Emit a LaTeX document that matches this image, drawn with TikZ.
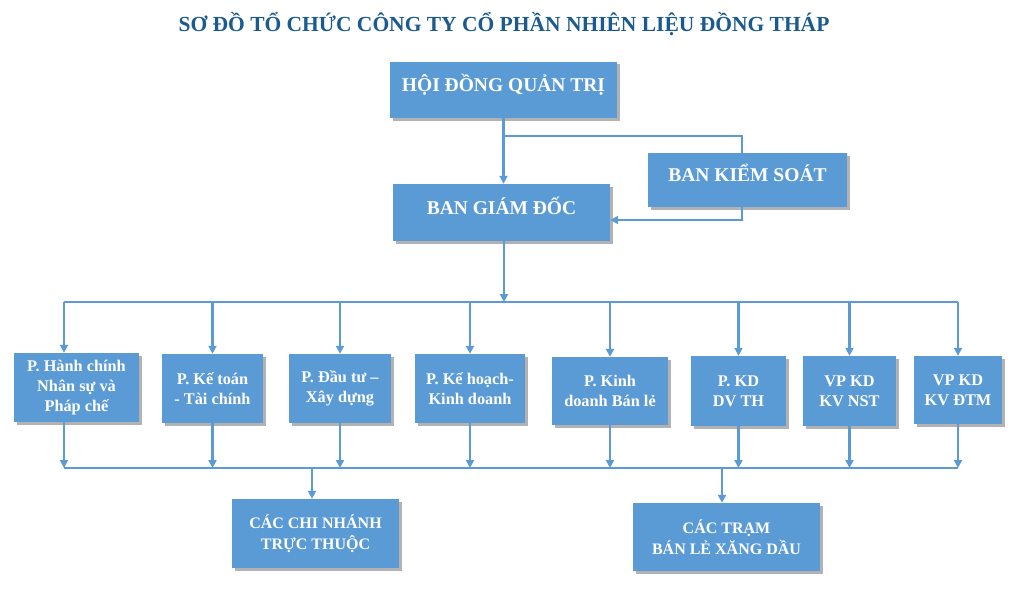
\documentclass[tikz,border=0pt]{standalone}
\usepackage{fontspec}
\setmainfont{Liberation Serif}
\usetikzlibrary{positioning,arrows.meta,shadows}
\definecolor{xanh}{HTML}{5B9BD5}
\definecolor{xanhdam}{HTML}{1A5A8E}

\begin{document}
\begin{tikzpicture}[x=1pt, y=-1pt, >={Triangle[length=8pt,width=8pt]},
      khoi/.style={fill=xanh, text=white, align=center, inner sep=0pt,
                   font=\fontsize{16.3}{20}\selectfont\bfseries,
                   drop shadow={shadow xshift=2.5pt, shadow yshift=-2.5pt, fill=black, opacity=0.3}},
      tren/.style={khoi, font=\fontsize{19.5}{22}\selectfont\bfseries, text height=12pt, text depth=9pt},
      day/.style={xanh, line width=2.6pt}]
    \useasboundingbox (0,0) rectangle (1023,594);
    \node[font=\fontsize{21.5}{24}\selectfont\bfseries, text=xanhdam] (tt) at (504,24)
      {SƠ ĐỒ TỔ CHỨC CÔNG TY CỔ PHẦN NHIÊN LIỆU ĐỒNG THÁP};
    \node[tren, minimum width=227pt, minimum height=56pt] (hd) at (503.5,90) {HỘI ĐỒNG QUẢN TRỊ};
    \node[tren, minimum width=199pt, minimum height=54pt] (ks) at (747.5,180) {BAN KIỂM SOÁT};
    \node[tren, minimum width=217pt, minimum height=57pt] (bg) at (501.5,212.5) {BAN GIÁM ĐỐC};
    \node[khoi, minimum width=125pt, minimum height=69pt] (d1) at (76.5,387.5) {P. Hành chính\\Nhân sự và\\Pháp chế};
    \node[khoi, minimum width=101pt, minimum height=69pt] (d2) at (212.5,388.5) {P. Kế toán\\- Tài chính};
    \node[khoi, minimum width=102pt, minimum height=69pt] (d3) at (340,388.5) {P. Đầu tư –\\Xây dựng};
    \node[khoi, minimum width=110pt, minimum height=69pt] (d4) at (470,388.5) {P. Kế hoạch-\\Kinh doanh};
    \node[khoi, minimum width=116pt, minimum height=68pt] (d5) at (610,391) {P. Kinh\\doanh Bán lẻ};
    \node[khoi, minimum width=95pt, minimum height=70pt] (d6) at (738.5,391) {P. KD\\DV TH};
    \node[khoi, minimum width=93pt, minimum height=70pt] (d7) at (849.5,391) {VP KD\\KV NST};
    \node[khoi, minimum width=88pt, minimum height=68pt] (d8) at (958,390) {VP KD\\KV ĐTM};
    \node[khoi, minimum width=167pt, minimum height=69pt, font=\fontsize{16}{21}\selectfont\bfseries] (cn) at (315.5,533.5) {CÁC CHI NHÁNH\\TRỰC THUỘC};
    \node[khoi, minimum width=187pt, minimum height=68pt, font=\fontsize{16}{21}\selectfont\bfseries] (tr) at (726.5,537) {CÁC TRẠM\\BÁN LẺ XĂNG DẦU};
    \coordinate (r) at (742,136);
    \coordinate (s) at (742,220);
    \coordinate (t) at (504,302);
    \coordinate (u) at (504,468);
    \draw[day, ->] (hd.south) -- (hd.south |- bg.north);
    \draw[day] (hd.south |- r) -- (r) -- (r |- ks.north);
    \draw[day, ->] (r |- ks.south) -- (s) -- (s -| bg.east);
    \draw[day, ->] (t |- bg.south) -- (t);
    \draw[day] ([xshift=-12.5pt]d1.north |- t) -- (d8.north |- t);
    \draw[day, ->] ([xshift=-12.5pt]d1.north |- t) -- ([xshift=-12.5pt]d1.north);
    \draw[day, ->] (d2.north |- t) -- (d2.north);
    \draw[day, ->] (d3.north |- t) -- (d3.north);
    \draw[day, ->] (d4.north |- t) -- (d4.north);
    \draw[day, ->] (d5.north |- t) -- (d5.north);
    \draw[day, ->] (d6.north |- t) -- (d6.north);
    \draw[day, ->] (d7.north |- t) -- (d7.north);
    \draw[day, ->] (d8.north |- t) -- (d8.north);
    \draw[day, ->] ([xshift=-12.5pt]d1.south) -- ([xshift=-12.5pt]d1.south |- u);
    \draw[day, ->] (d2.south) -- (d2.south |- u);
    \draw[day, ->] (d3.south) -- (d3.south |- u);
    \draw[day, ->] (d4.south) -- (d4.south |- u);
    \draw[day, ->] (d5.south) -- (d5.south |- u);
    \draw[day, ->] (d6.south) -- (d6.south |- u);
    \draw[day, ->] (d7.south) -- (d7.south |- u);
    \draw[day, ->] (d8.south) -- (d8.south |- u);
    \draw[day] ([xshift=-12.5pt]d1.south |- u) -- (d8.south |- u);
    \draw[day, ->] ([xshift=-3.5pt]cn.north |- u) -- ([xshift=-3.5pt]cn.north);
    \draw[day, ->] ([xshift=-4.5pt]tr.north |- u) -- ([xshift=-4.5pt]tr.north);
  \end{tikzpicture}
\end{document}
